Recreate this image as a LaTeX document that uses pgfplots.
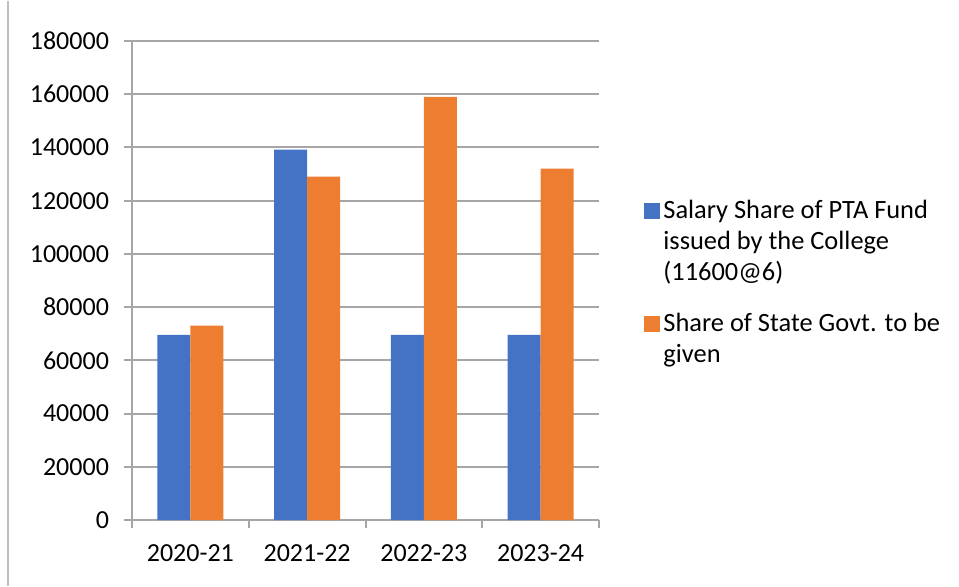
\documentclass[border=0pt]{standalone}
\usepackage{fontspec}
\setmainfont{Carlito}
\usepackage{pgfplots}
\pgfplotsset{compat=1.18}
\definecolor{sblue}{HTML}{4472C4}
\definecolor{sorange}{HTML}{ED7D31}
\definecolor{gridc}{HTML}{A6A6A6}
\begin{document}
\fontsize{13bp}{15.5bp}\selectfont
\begin{tikzpicture}
\begin{axis}[
  scale only axis, width=233.5bp, height=239.5bp,
  ybar=0pt, bar width=16.5bp,
  xmin=-0.5, xmax=3.5, ymin=0, ymax=180000,
  enlargelimits=false,
  scaled y ticks=false,
  xtick={0,1,2,3},
  xticklabels={2020-21,2021-22,2022-23,2023-24},
  ytick={0,20000,40000,60000,80000,100000,120000,140000,160000,180000},
  yticklabels={0,20000,40000,60000,80000,100000,120000,140000,160000,180000},
  axis lines*=left,
  axis line style={-, draw=gridc, line width=1bp},
  ymajorgrids, grid style={draw=gridc, line width=1bp},
  tick align=outside,
  major tick length=4bp,
  tick style={draw=gridc, line width=1bp},
  x tick style={draw=none},
  extra x ticks={-0.5,0.5,1.5,2.5,3.5},
  extra x tick labels={},
  extra x tick style={xmajorgrids=false, x tick style={draw=gridc, line width=1bp}},
  ticklabel style={font=\fontsize{13bp}{15.5bp}\selectfont},
  yticklabel style={xshift=-3bp},
  xticklabel style={yshift=-4bp},
  legend style={draw=none, fill=none, at={(rel axis cs:1.096,0.675)}, anchor=north west,
    inner sep=0pt, outer sep=0pt, cells={anchor=base west}, row sep=0pt, column sep=1.8bp,
    nodes={inner sep=0pt, text height=11bp, text depth=4.5bp}, font=\fontsize{13.2bp}{15.5bp}\selectfont},
  legend image code/.code={\fill[#1,draw=none] (0bp,0bp) rectangle (8bp,8bp);},
]
\coordinate (O) at (rel axis cs:0,0);
\addplot[fill=sblue, draw=none] coordinates {(0,69600) (1,139200) (2,69600) (3,69600)};
\addlegendentry{Salary Share of PTA Fund}
\addlegendimage{empty legend}
\addlegendentry{issued by the College}
\addlegendimage{empty legend}
\addlegendentry[text depth=14.5bp]{(11600@6)}
\addplot[fill=sorange, draw=none] coordinates {(0,73000) (1,129000) (2,159000) (3,132000)};
\addlegendentry{Share of State Govt. to be}
\addlegendimage{empty legend}
\addlegendentry{given}
\end{axis}
\path (O) ++(-66bp,-33bp) rectangle ++(479.5bp,292.5bp);
\draw[color=gray!50, line width=1bp] (O) ++(-62bp,-33bp) -- ++(0,292.5bp);
\end{tikzpicture}
\end{document}
